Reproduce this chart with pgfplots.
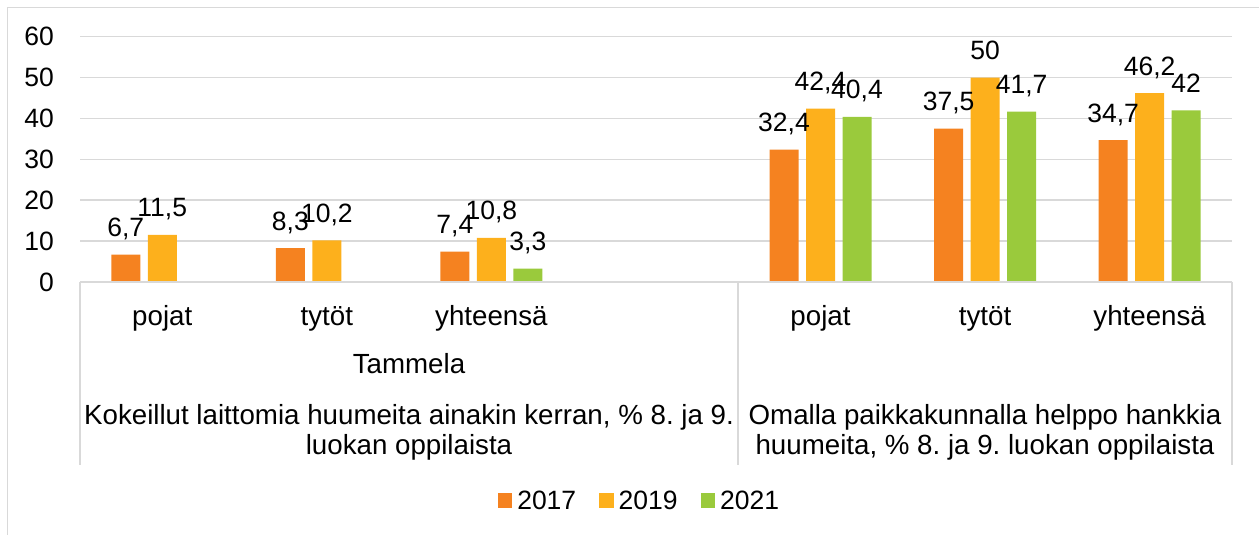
\documentclass[border=0pt]{standalone}
\usepackage{pgfplots}
\pgfplotsset{compat=1.18}
\usepackage{fontspec}
\setmainfont{Liberation Sans}
\frenchspacing
\definecolor{c17}{RGB}{245,130,32}
\definecolor{c19}{RGB}{253,176,28}
\definecolor{c21}{RGB}{154,202,60}
\definecolor{lgray}{RGB}{217,217,217}
\newcommand{\numfont}{\fontsize{26.5bp}{30bp}\selectfont}
\newcommand{\catfont}{\fontsize{27.7bp}{31bp}\selectfont}
\begin{document}
\begin{tikzpicture}
\useasboundingbox (0bp,0bp) rectangle (1259bp,535bp);
\draw[lgray, line width=1.5bp] (7.3bp,0bp) -- (7.3bp,527.7bp) -- (1259bp,527.7bp);
\begin{axis}[
  at={(80bp,253bp)}, anchor=south west,
  width=1152bp, height=245.3bp, scale only axis,
  xmin=-0.5, xmax=6.5, ymin=0, ymax=60,
  enlargelimits=false,
  ytick={0,10,...,60},
  xtick={0,...,6},
  xticklabels={pojat,tytöt,yhteensä,,pojat,tytöt,yhteensä},
  axis line style={draw=none},
  major tick length=0pt,
  ymajorgrids, grid style={draw=lgray, line width=1.5bp},
  /pgf/number format/assume math mode=true,
  /pgf/number format/use comma,
  yticklabel style={font=\numfont, anchor=east, inner sep=0pt, xshift=-26bp},
  xticklabel style={font=\catfont, anchor=base, inner sep=0pt, yshift=-43bp},
  ybar, bar width=29bp,
  nodes near coords,
  nodes near coords style={font=\numfont, anchor=base, inner sep=0pt, yshift=18bp},
  legend columns=3,
  legend style={at={(axis description cs:0.4848,-0.8908)}, anchor=center, draw=none, fill=none,
    font=\numfont, nodes={inner sep=0pt},
    /tikz/every odd column/.append style={column sep=5bp},
    /tikz/every even column/.append style={column sep=23bp}},
  legend image code/.code={\fill[#1] (0bp,-7bp) rectangle (14.5bp,7.5bp);},
]
\addplot[fill=c17, draw=none, bar shift=-36.5bp] coordinates {(0,6.7) (1,8.3) (2,7.4) (4,32.4) (5,37.5) (6,34.7)};
\addlegendentry{2017}
\addplot[fill=c19, draw=none, bar shift=0bp] coordinates {(0,11.5) (1,10.2) (2,10.8) (4,42.4) (5,50) (6,46.2)};
\addlegendentry{2019}
\addplot[fill=c21, draw=none, bar shift=36.5bp] coordinates {(2,3.3) (4,40.4) (5,41.7) (6,42)};
\addlegendentry{2021}
\end{axis}
\draw[lgray, line width=1.5bp] (80bp,253bp) -- (1232bp,253bp);
\draw[lgray, line width=1.5bp] (80bp,253bp) -- (80bp,70bp);
\draw[lgray, line width=1.5bp] (738bp,253bp) -- (738bp,70bp);
\draw[lgray, line width=1.5bp] (1232bp,253bp) -- (1232bp,70bp);
\node[font=\catfont, anchor=base, inner sep=0pt] at (409bp,161bp) {Tammela};
\node[font=\catfont, anchor=base, inner sep=0pt] at (409bp,110bp) {Kokeillut laittomia huumeita ainakin kerran, \% 8. ja 9.};
\node[font=\catfont, anchor=base, inner sep=0pt] at (409bp,80bp) {luokan oppilaista};
\node[font=\catfont, anchor=base, inner sep=0pt] at (985bp,110bp) {Omalla paikkakunnalla helppo hankkia};
\node[font=\catfont, anchor=base, inner sep=0pt] at (985bp,80bp) {huumeita, \% 8. ja 9. luokan oppilaista};
\end{tikzpicture}
\end{document}
